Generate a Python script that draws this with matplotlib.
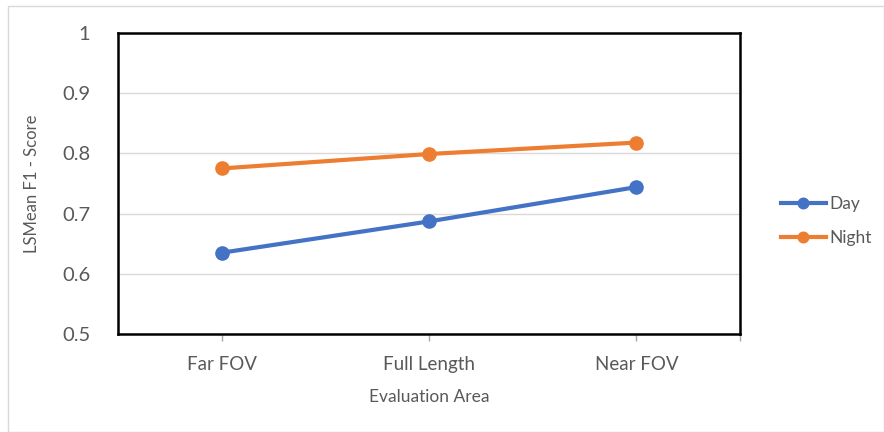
import matplotlib.pyplot as plt
from matplotlib.patches import Rectangle

# data
areas = ['Far FOV', 'Full Length', 'Near FOV']
day = [0.635, 0.687, 0.744]
night = [0.775, 0.799, 0.818]
yticks = [0.5, 0.6, 0.7, 0.8, 0.9, 1.0]
ytick_labels = ['0.5', '0.6', '0.7', '0.8', '0.9', '1']

plt.rcParams['font.family'] = ['Lato', 'DejaVu Sans']
txt = '#595959'

fig = plt.figure(figsize=(8.84, 4.32), dpi=100)
# chart area border
fig.patches.append(Rectangle((8/884, 0), 1 - 8/884, 1 - 6/432, transform=fig.transFigure,
                             fill=False, edgecolor='#D9D9D9', linewidth=1))

ax = fig.add_axes([118/884, 1 - 334/432, 622/884, 301/432])
x = list(range(len(areas)))
ax.plot(x, day, color='#4472C4', lw=3, marker='o', ms=9.5, label='Day', zorder=3)
ax.plot(x, night, color='#ED7D31', lw=3, marker='o', ms=9.5, label='Night', zorder=3)

ax.set_xlim(-0.5, 2.5)
ax.set_ylim(0.5, 1.0)
ax.set_yticks(yticks)
ax.set_yticklabels(ytick_labels, fontsize=14.5, color=txt)
ax.tick_params(axis='y', length=0, pad=20)
ax.set_xticks(x + [2.5])
ax.set_xticklabels(areas + [''], fontsize=13.5, color=txt)
ax.tick_params(axis='x', length=5, width=1, color='#A6A6A6', direction='out', pad=11)
ax.grid(axis='y', color='#D9D9D9', lw=1)
ax.set_axisbelow(True)
for s in ax.spines.values():
    s.set_linewidth(1.8)
    s.set_color('black')

ax.set_xlabel('Evaluation Area', fontsize=12.5, color=txt, labelpad=11)
ax.set_ylabel('LSMean F1 - Score', fontsize=12, color=txt, labelpad=16)

ax.legend(loc='center left', bbox_to_anchor=(1.04, 0.375), frameon=False, fontsize=12.5,
          labelcolor=txt, handlelength=2.6, handletextpad=0.2, labelspacing=1.0,
          markerscale=0.8)

plt.savefig('out.png', dpi=100)
